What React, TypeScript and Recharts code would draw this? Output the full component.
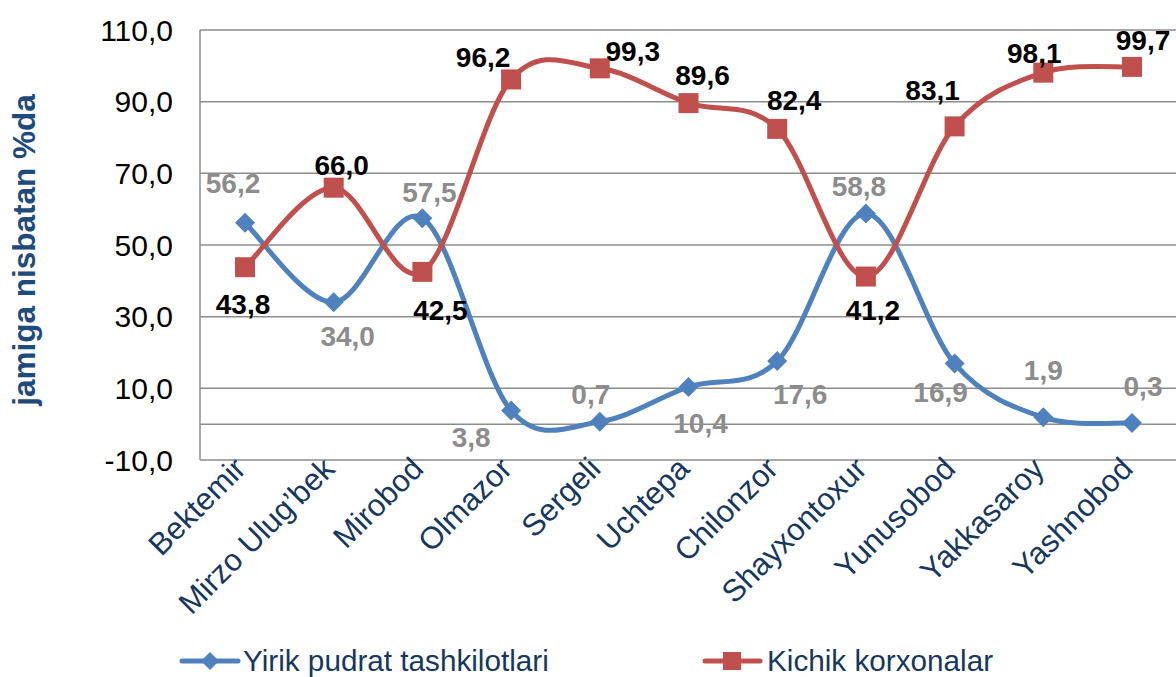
import { CartesianGrid, LabelList, Legend, Line, LineChart, ReferenceLine, XAxis, YAxis } from 'recharts';

const categories = [
  'Bektemir',
  'Mirzo Ulug’bek',
  'Mirobod',
  'Olmazor',
  'Sergeli',
  'Uchtepa',
  'Chilonzor',
  'Shayxontoxur',
  'Yunusobod',
  'Yakkasaroy',
  'Yashnobod',
];
const yirik = [56.2, 34.0, 57.5, 3.8, 0.7, 10.4, 17.6, 58.8, 16.9, 1.9, 0.3];
const kichik = [43.8, 66.0, 42.5, 96.2, 99.3, 89.6, 82.4, 41.2, 83.1, 98.1, 99.7];
const yTicks = [-10, 10, 30, 50, 70, 90, 110];

// label nudges (px) from each point, like the hand-placed labels in the source
const yirikLabelShift = [[-12, -40], [14, 34], [7, -26], [-40, 27], [-9, -27], [12, 36], [23, 33], [-7, -27], [-14, 29], [0, -47], [11, -37]];
const kichikLabelShift = [[-2, 37], [8, -22], [18, 38], [-28, -22], [33, -17], [14, -28], [17, -29], [7, 34], [-22, -36], [-9, -19], [11, -27]];

const data = categories.map((name, i) => ({ name, yirik: yirik[i], kichik: kichik[i] }));

const BLUE = '#4F81BD';
const RED = '#C0504D';
const NAVY = '#17375E';
const FONT = '"Liberation Sans", Arial, sans-serif';

const fmt = (v: number) => v.toFixed(1).replace('.', ',');

// Excel-style smoothed line (cardinal spline through the points)
const excelSmooth = (context: any) => {
  let pts: number[][] = [];
  return {
    areaStart() {},
    areaEnd() {},
    lineStart() {
      pts = [];
    },
    point(x: number, y: number) {
      pts.push([+x, +y]);
    },
    lineEnd() {
      const n = pts.length;
      if (!n) return;
      context.moveTo(pts[0][0], pts[0][1]);
      for (let i = 0; i < n - 1; i++) {
        const p0 = pts[Math.max(i - 1, 0)];
        const p1 = pts[i];
        const p2 = pts[i + 1];
        const p3 = pts[Math.min(i + 2, n - 1)];
        context.bezierCurveTo(
          p1[0] + (p2[0] - p0[0]) / 6,
          p1[1] + (p2[1] - p0[1]) / 6,
          p2[0] - (p3[0] - p1[0]) / 6,
          p2[1] - (p3[1] - p1[1]) / 6,
          p2[0],
          p2[1],
        );
      }
    },
  };
};

const Diamond = ({ cx, cy, r = 10 }: { cx: number; cy: number; r?: number }) => (
  <polygon points={`${cx},${cy - r} ${cx + r},${cy} ${cx},${cy + r} ${cx - r},${cy}`} fill={BLUE} />
);

const Square = ({ cx, cy, s = 20 }: { cx: number; cy: number; s?: number }) => (
  <rect x={cx - s / 2} y={cy - s / 2} width={s} height={s} fill={RED} />
);

const makeLabel = (shift: number[][], color: string) => (props: any) => {
  const { x, y, value, index } = props;
  const [dx, dy] = shift[index] || [0, -20];
  return (
    <text
      x={x + dx}
      y={y + dy}
      dy="0.35em"
      textAnchor="middle"
      fill={color}
      fontSize={28}
      fontWeight="bold"
      fontFamily={FONT}
    >
      {fmt(value)}
    </text>
  );
};

const CategoryTick = ({ x, y, payload }: any) => (
  <g transform={`translate(${x - 5},${y + 3})`}>
    <text
      x={0}
      y={0}
      dy="0.35em"
      transform="rotate(-45)"
      textAnchor="end"
      fill={NAVY}
      fontSize={31}
      fontFamily={FONT}
    >
      {payload.value}
    </text>
  </g>
);

const AxisTitle = ({ viewBox }: any) => {
  const cx = 24;
  const cy = viewBox.y + viewBox.height / 2 + 5;
  return (
    <text
      x={cx}
      y={cy}
      dy="0.35em"
      transform={`rotate(-90, ${cx}, ${cy})`}
      textAnchor="middle"
      fill="#1F4A7C"
      fontSize={31.5}
      fontWeight="bold"
      fontFamily={FONT}
    >
      jamiga nisbatan %da
    </text>
  );
};

const ChartLegend = () => (
  <svg width={1176} height={56} style={{ display: 'block' }}>
    <line x1={182} y1={40} x2={238} y2={40} stroke={BLUE} strokeWidth={5} strokeLinecap="round" />
    <Diamond cx={210} cy={40} r={9} />
    <text x={243} y={40} dy="0.35em" fill={NAVY} fontSize={29.7} fontFamily={FONT}>
      Yirik pudrat tashkilotlari
    </text>
    <line x1={705} y1={40} x2={760} y2={40} stroke={RED} strokeWidth={5} strokeLinecap="round" />
    <Square cx={732} cy={40} s={18} />
    <text x={767} y={40} dy="0.35em" fill={NAVY} fontSize={29.7} fontFamily={FONT}>
      Kichik korxonalar
    </text>
  </svg>
);

export default function App() {
  return (
    <div style={{ position: 'absolute', left: 0, top: 0, width: 1176, height: 677, background: '#fff' }}>
      <LineChart width={1176} height={677} data={data} margin={{ top: 30, right: 0, bottom: 0, left: 0 }}>
        <CartesianGrid vertical={false} stroke="#8C8C8C" strokeWidth={1.5} />
        <XAxis
          dataKey="name"
          axisLine={false}
          tickLine={false}
          tickSize={0}
          tickMargin={0}
          height={161}
          interval={0}
          padding={{ left: 45, right: 44 }}
          tick={<CategoryTick />}
        />
        <YAxis
          domain={[-10, 110]}
          ticks={yTicks}
          width={200}
          tickFormatter={fmt}
          axisLine={{ stroke: '#8C8C8C', strokeWidth: 1.5 }}
          tickLine={false}
          tickMargin={21}
          tick={{ fill: '#000', fontSize: 30, fontFamily: FONT }}
          label={<AxisTitle />}
        />
        <ReferenceLine y={0} stroke="#8C8C8C" strokeWidth={1.5} />
        <Legend verticalAlign="bottom" height={56} content={<ChartLegend />} wrapperStyle={{ left: 0, bottom: 0, width: 1176 }} />
        <Line
          dataKey="yirik"
          name="Yirik pudrat tashkilotlari"
          type={excelSmooth as any}
          stroke={BLUE}
          strokeWidth={5}
          dot={(p: any) => <Diamond key={`d${p.index}`} cx={p.cx} cy={p.cy} />}
          activeDot={false}
          isAnimationActive={false}
        >
          <LabelList dataKey="yirik" content={makeLabel(yirikLabelShift, '#8C8C8C')} />
        </Line>
        <Line
          dataKey="kichik"
          name="Kichik korxonalar"
          type={excelSmooth as any}
          stroke={RED}
          strokeWidth={5}
          dot={(p: any) => <Square key={`s${p.index}`} cx={p.cx} cy={p.cy} />}
          activeDot={false}
          isAnimationActive={false}
        >
          <LabelList dataKey="kichik" content={makeLabel(kichikLabelShift, '#000')} />
        </Line>
      </LineChart>
    </div>
  );
}
